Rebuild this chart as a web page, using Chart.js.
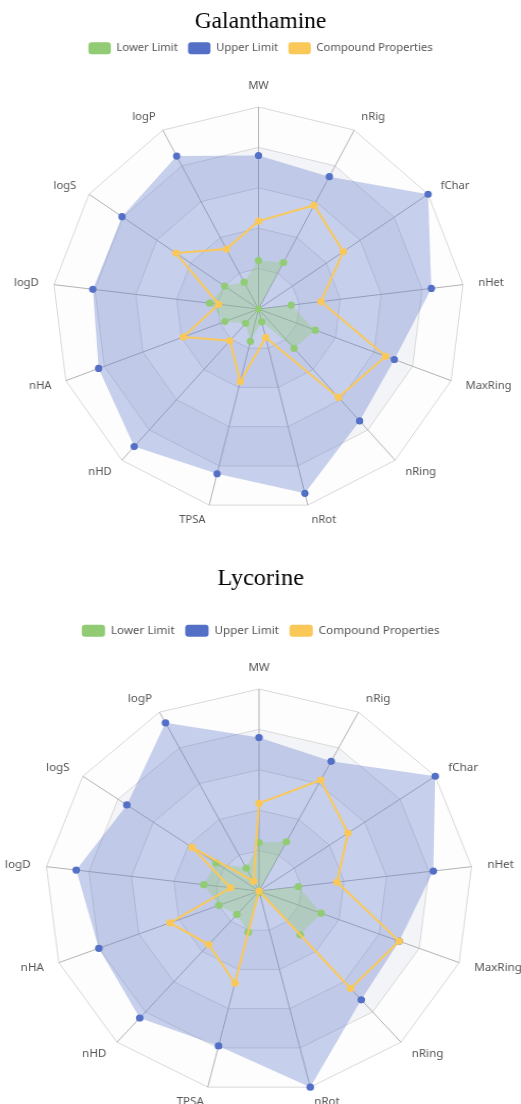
<!DOCTYPE html>
<html>
<head>
<meta charset="utf-8">
<script src="https://cdn.jsdelivr.net/npm/chart.js@4/dist/chart.umd.min.js"></script>
<style>
html,body{margin:0;padding:0;background:#fff;overflow:hidden;width:521px;height:1104px;}
.wrap{position:absolute;left:0;width:521px;height:552px;}
#w1{top:0;transform:scaleX(1.02);transform-origin:258.5px 0;}
#w2{top:552px;transform:scaleX(1.06);transform-origin:259px 0;}
canvas{display:block;}
</style>
</head>
<body>
<div class="wrap" id="w1"><canvas id="c1" width="521" height="552"></canvas></div>
<div class="wrap" id="w2"><canvas id="c2" width="521" height="552"></canvas></div>
<script>
// ---- data ----
const axisLabels = ['MW', 'nRig', 'fChar', 'nHet', 'MaxRing', 'nRing', 'nRot', 'TPSA', 'nHD', 'nHA', 'logD', 'logS', 'logP'];
const seriesNames = ['Lower Limit', 'Upper Limit', 'Compound Properties'];
const chartTitles = ['Galanthamine', 'Lycorine'];

const galanthamineLower = [0.24, 0.26, 0, 0.16, 0.295, 0.26, 0.065, 0.165, 0.095, 0.175, 0.24, 0.20, 0.15];
const galanthamineUpper = [0.76, 0.74, 1.0, 0.845, 0.705, 0.74, 0.94, 0.84, 0.91, 0.83, 0.81, 0.805, 0.855];
const galanthamineCompound = [0.435, 0.58, 0.50, 0.305, 0.66, 0.585, 0.145, 0.37, 0.21, 0.39, 0.195, 0.487, 0.335];

const lycorineLower = [0.24, 0.275, 0, 0.185, 0.31, 0.29, 0.01, 0.21, 0.156, 0.20, 0.26, 0.245, 0.128];
const lycorineUpper = [0.76, 0.725, 1.0, 0.82, 0.70, 0.72, 1.0, 0.79, 0.84, 0.80, 0.86, 0.75, 0.94];
const lycorineCompound = [0.434, 0.62, 0.505, 0.367, 0.70, 0.645, 0, 0.47, 0.354, 0.445, 0.134, 0.38, 0.055];

const scaleTicks = [0, 0.2, 0.4, 0.6, 0.8, 1.0];

// ---- styles ----
const solid = ['#91cc75', '#5470c6', '#fac858'];
const fills = ['rgba(145,204,117,0.35)', 'rgba(84,112,198,0.32)', 'rgba(0,0,0,0)'];
const sansFamily = "'Noto Sans', 'Open Sans', sans-serif";
const serifFamily = "'Liberation Serif', 'Times New Roman', serif";
const labelSize = 11;
const labelLH = labelSize * 1.2;
const textGrey = '#555';

const bandPlugin = {
  id: 'bands',
  beforeDraw(chart) {
    const s = chart.scales.r;
    const ctx = chart.ctx;
    const n = chart.data.labels.length;
    const poly = (r) => {
      for (let i = 0; i < n; i++) {
        const p = s.getPointPosition(i, r);
        if (i === 0) ctx.moveTo(p.x, p.y); else ctx.lineTo(p.x, p.y);
      }
      ctx.closePath();
    };
    ctx.save();
    for (let k = 1; k < scaleTicks.length; k++) {
      const ro = s.getDistanceFromCenterForValue(scaleTicks[k]);
      const ri = s.getDistanceFromCenterForValue(scaleTicks[k - 1]);
      ctx.beginPath();
      poly(ro);
      if (ri > 0) poly(ri);
      ctx.fillStyle = (k % 2 === 1) ? 'rgba(250,250,250,0.3)' : 'rgba(215,218,228,0.3)';
      ctx.fill('evenodd');
    }
    ctx.restore();
  }
};

function makeAfterFit(cx, cy, R, pad) {
  return function (scale) {
    scale.xCenter = cx;
    scale.yCenter = cy;
    scale.drawingArea = R;
    const n = scale._pointLabels.length;
    const ctx = scale.ctx;
    ctx.save();
    ctx.font = labelSize + 'px ' + sansFamily;
    const items = [];
    for (let i = 0; i < n; i++) {
      const p = scale.getPointPosition(i, R + pad);
      const deg = Math.round(i * 360 / n);
      const w = ctx.measureText(scale._pointLabels[i]).width;
      let align = 'center', left = p.x - w / 2;
      if (deg > 0 && deg < 180) { align = 'left'; left = p.x; }
      else if (deg > 180) { align = 'right'; left = p.x - w; }
      const top = (deg === 0) ? p.y - labelLH : p.y - labelLH / 2;
      items.push({ x: p.x, y: top, textAlign: align, left: left, right: left + w, top: top, bottom: top + labelLH, visible: true });
    }
    ctx.restore();
    scale._pointLabelItems = items;
  };
}

function buildChart(canvasId, title, lower, upper, compound, geo) {
  const datas = [lower, upper, compound];
  const orders = [1, 2, 0];
  const datasets = datas.map((d, i) => ({
    label: seriesNames[i],
    data: d,
    backgroundColor: fills[i],
    borderColor: i === 2 ? solid[2] : 'rgba(0,0,0,0)',
    borderWidth: i === 2 ? 2 : 0,
    fill: i !== 2,
    pointBackgroundColor: solid[i],
    pointBorderColor: solid[i],
    pointBorderWidth: 0,
    pointRadius: 3.6,
    pointHoverRadius: 3.6,
    order: orders[i],
    clip: false
  }));
  return new Chart(document.getElementById(canvasId), {
    type: 'radar',
    data: { labels: axisLabels, datasets: datasets },
    plugins: [bandPlugin],
    options: {
      responsive: false,
      animation: false,
      devicePixelRatio: 1,
      events: [],
      plugins: {
        tooltip: { enabled: false },
        title: {
          display: true,
          text: title,
          color: '#000',
          font: { family: serifFamily, size: 23, weight: 'normal', lineHeight: 0.9 },
          padding: { top: geo.titleTop, bottom: geo.titleBottom }
        },
        legend: {
          display: true,
          position: 'top',
          labels: {
            boxWidth: 22,
            boxHeight: 12,
            padding: 10,
            color: textGrey,
            font: { family: sansFamily, size: 11 },
            generateLabels: (chart) => chart.data.datasets.map((d, i) => ({
              text: d.label,
              fillStyle: solid[i],
              strokeStyle: solid[i],
              lineWidth: 0,
              borderRadius: 3,
              hidden: false,
              datasetIndex: i,
              fontColor: textGrey
            }))
          }
        }
      },
      scales: {
        r: {
          min: 0,
          max: 1,
          ticks: { display: false, stepSize: 0.2 },
          grid: { color: '#d8d8d8', lineWidth: 1 },
          angleLines: { color: '#b2b2b2', lineWidth: 1 },
          pointLabels: { color: textGrey, font: { family: sansFamily, size: labelSize }, padding: 15 },
          afterFit: makeAfterFit(geo.cx, geo.cy, geo.R, 15)
        }
      }
    }
  });
}

buildChart('c1', chartTitles[0], galanthamineLower, galanthamineUpper, galanthamineCompound,
  { cx: 258.5, cy: 309, R: 202, titleTop: 11.65, titleBottom: 0 });
buildChart('c2', chartTitles[1], lycorineLower, lycorineUpper, lycorineCompound,
  { cx: 259, cy: 339, R: 202, titleTop: 17, titleBottom: 25 });
</script>
</body>
</html>
